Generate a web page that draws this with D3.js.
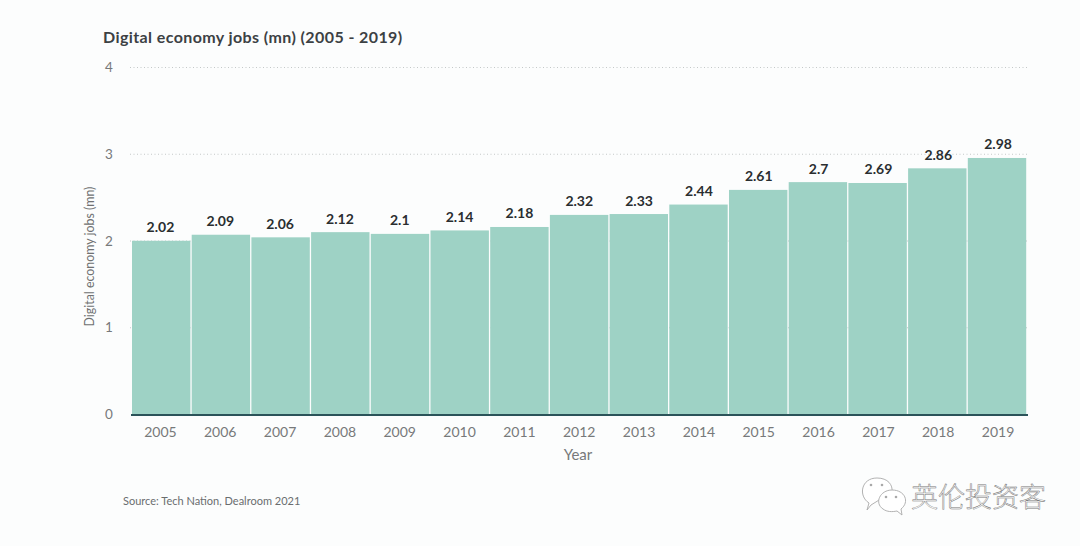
<!DOCTYPE html>
<html>
<head>
<meta charset="utf-8">
<script src="https://cdn.jsdelivr.net/npm/d3@7"></script>
<style>
html, body { margin: 0; padding: 0; background: #fcfdfd; }
svg { display: block; }
text { font-family: Lato, "Noto Sans", sans-serif; }
</style>
</head>
<body>
<div id="chart"></div>
<script>
var years = ["2005", "2006", "2007", "2008", "2009", "2010", "2011", "2012", "2013", "2014", "2015", "2016", "2017", "2018", "2019"];
var jobs = [2.02, 2.09, 2.06, 2.12, 2.1, 2.14, 2.18, 2.32, 2.33, 2.44, 2.61, 2.7, 2.69, 2.86, 2.98];
var yTicks = [0, 1, 2, 3, 4];

var svg = d3.select("#chart").append("svg")
  .attr("width", 1080)
  .attr("height", 546);

var xScale = d3.scaleBand().domain(years).range([132, 1027.5]);
var labelScale = d3.scaleBand().domain(years).range([130.5, 1028]);
var yScale = d3.scaleLinear().domain([0, 4]).range([414.5, 67.5]);
// in the picture the bars sit a little under the gridlines
var barScale = d3.scaleLinear().domain([0, 4]).range([415, 70]);

// gridlines
svg.append("g").selectAll("line")
  .data(yTicks.filter(function(d) { return d > 0; }))
  .enter().append("line")
  .attr("x1", 130)
  .attr("x2", 1029)
  .attr("y1", function(d) { return yScale(d); })
  .attr("y2", function(d) { return yScale(d); })
  .attr("stroke", "#c4c8c8")
  .attr("stroke-width", 1)
  .attr("stroke-dasharray", "1 2.5");

// bars
svg.append("g").selectAll("rect")
  .data(years)
  .enter().append("rect")
  .attr("x", function(d) { return xScale(d); })
  .attr("width", xScale.bandwidth() - 1.3)
  .attr("y", function(d, i) { return barScale(jobs[i]); })
  .attr("height", function(d, i) { return barScale(0) - barScale(jobs[i]); })
  .attr("fill", "#9ed2c5");

// baseline
svg.append("line")
  .attr("x1", 131)
  .attr("x2", 1028)
  .attr("y1", barScale(0))
  .attr("y2", barScale(0))
  .attr("stroke", "#2b5359")
  .attr("stroke-width", 1.8);

// value labels
svg.append("g").selectAll("text")
  .data(years)
  .enter().append("text")
  .attr("x", function(d) { return labelScale(d) + labelScale.bandwidth() / 2; })
  .attr("y", function(d, i) { return barScale(jobs[i]) - 8.5; })
  .attr("text-anchor", "middle")
  .attr("font-size", 14)
  .attr("font-weight", 700)
  .attr("fill", "#2a2e30")
  .text(function(d, i) { return String(jobs[i]); });

// y axis labels
svg.append("g").selectAll("text")
  .data(yTicks)
  .enter().append("text")
  .attr("x", 109)
  .attr("y", function(d) { return yScale(d) + 4.5; })
  .attr("text-anchor", "middle")
  .attr("font-size", 13.5)
  .attr("fill", "#77797a")
  .text(function(d) { return d; });

// x axis labels
svg.append("g").selectAll("text")
  .data(years)
  .enter().append("text")
  .attr("x", function(d) { return labelScale(d) + labelScale.bandwidth() / 2; })
  .attr("y", 436.5)
  .attr("text-anchor", "middle")
  .attr("font-size", 14)
  .attr("fill", "#77797a")
  .text(function(d) { return d; });

svg.append("text")
  .attr("x", 578)
  .attr("y", 459.5)
  .attr("text-anchor", "middle")
  .attr("font-size", 15)
  .attr("fill", "#77797a")
  .text("Year");

svg.append("text")
  .attr("transform", "translate(94,256.5) rotate(-90)")
  .attr("text-anchor", "middle")
  .attr("font-size", 12.4)
  .attr("fill", "#6f7172")
  .text("Digital economy jobs (mn)");

svg.append("text")
  .attr("x", 103)
  .attr("y", 42.5)
  .attr("font-size", 16)
  .attr("font-weight", 700)
  .attr("letter-spacing", 0.4)
  .attr("fill", "#3c4144")
  .text("Digital economy jobs (mn) (2005 - 2019)");

svg.append("text")
  .attr("x", 123)
  .attr("y", 505)
  .attr("font-size", 11)
  .attr("fill", "#6a6d6f")
  .text("Source: Tech Nation, Dealroom 2021");

// watermark
var mark = svg.append("g").attr("fill", "#ffffff").attr("stroke", "#a9a9a9").attr("stroke-width", 0.9);
mark.append("path").attr("d", "M871 505 L867 510 L869 503 C858 496 861 478 877 478 C888 478 893 485 892 492 Z");
mark.append("path").attr("d", "M897 511 L902 515 L901 509 C910 502 905 490 892 490 C880 490 874 503 883 509 C887 512 892 512 897 511 Z");
var eyes = [[871, 485], [882, 485], [886, 497], [896, 497]];
svg.append("g").selectAll("circle")
  .data(eyes)
  .enter().append("circle")
  .attr("cx", function(d) { return d[0]; })
  .attr("cy", function(d) { return d[1]; })
  .attr("r", 1.3)
  .attr("fill", "#a9a9a9");

svg.append("text")
  .attr("x", 911)
  .attr("y", 507)
  .attr("font-size", 27)
  .attr("font-weight", 300)
  .attr("fill", "#ffffff")
  .attr("stroke", "#777777")
  .attr("stroke-width", 0.5)
  .style("font-family", '"Noto Sans CJK SC"')
  .text("英伦投资客");
</script>
</body>
</html>
